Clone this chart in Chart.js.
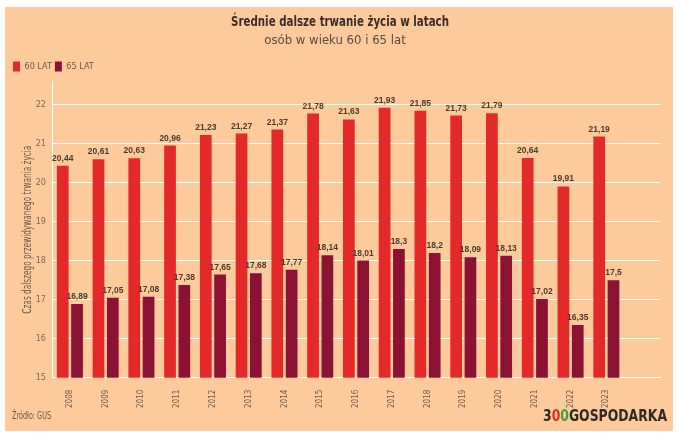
<!DOCTYPE html>
<html><head><meta charset="utf-8">
<script src="https://cdn.jsdelivr.net/npm/chart.js@4/dist/chart.umd.min.js"></script>
<style>html,body{margin:0;padding:0;background:#fff;}canvas{display:block;}</style>
</head><body>
<canvas id="c" width="680" height="438"></canvas>
<script>
const years = ['2008','2009','2010','2011','2012','2013','2014','2015','2016','2017','2018','2019','2020','2021','2022','2023',''];
const age60 = [20.44,20.61,20.63,20.96,21.23,21.27,21.37,21.78,21.63,21.93,21.85,21.73,21.79,20.64,19.91,21.19,null];
const age65 = [16.89,17.05,17.08,17.38,17.65,17.68,17.77,18.14,18.01,18.3,18.2,18.09,18.13,17.02,16.35,17.5,null];
const seriesNames = ['60 LAT','65 LAT'];
const titleText = 'Średnie dalsze trwanie życia w latach';
const subtitleText = 'osób w wieku 60 i 65 lat';
const yTitle = 'Czas dalszego przewidywanego trwania życia';
const sourceText = 'Źródło: GUS';

const FONT = '"DejaVu Sans Condensed", "Liberation Sans", sans-serif';
const BG = '#FDCB9B';

// draw text squeezed horizontally to a given width (condensed look)
function fitText(ctx, text, x, y, font, width, color, align) {
  ctx.save();
  ctx.font = font;
  ctx.fillStyle = color;
  ctx.textBaseline = 'middle';
  ctx.textAlign = 'left';
  const w = ctx.measureText(text).width;
  const s = width / w;
  let left = x;
  if (align === 'center') left = x - width / 2;
  else if (align === 'right') left = x - width;
  ctx.translate(left, y);
  ctx.scale(s, 1);
  ctx.fillText(text, 0, 0);
  ctx.restore();
}

const bgPlugin = {
  id: 'bg',
  beforeDraw(chart) {
    const ctx = chart.ctx;
    ctx.save();
    ctx.fillStyle = '#ffffff';
    ctx.fillRect(0, 0, chart.width, chart.height);
    ctx.fillStyle = BG;
    ctx.fillRect(5, 7, 668, 424);
    ctx.restore();
  }
};

const labelPlugin = {
  id: 'vals',
  afterDatasetsDraw(chart) {
    const ctx = chart.ctx;
    ctx.save();
    ctx.font = 'bold 8.5px "Liberation Sans", sans-serif';
    ctx.fillStyle = '#4e3a2c';
    ctx.textAlign = 'center';
    ctx.textBaseline = 'bottom';
    chart.data.datasets.forEach((ds, i) => {
      const meta = chart.getDatasetMeta(i);
      meta.data.forEach((el, j) => {
        const v = ds.data[j];
        if (v == null) return;
        ctx.fillText(String(v).replace('.', ','), el.x, el.y - 3);
      });
    });
    ctx.restore();
  }
};

const textPlugin = {
  id: 'texts',
  afterDraw(chart) {
    const ctx = chart.ctx;
    const ca = chart.chartArea;
    // main title
    fitText(ctx, titleText, 340, 22.5, 'bold 14px ' + FONT, 218, '#3a2e2a', 'center');
    // y axis title (rotated)
    ctx.save();
    ctx.translate(28, (ca.top + ca.bottom) / 2);
    ctx.rotate(-Math.PI / 2);
    fitText(ctx, yTitle, 0, 0, '12px ' + FONT, 168, '#6b5a50', 'center');
    ctx.restore();
    // source
    fitText(ctx, sourceText, 12, 416, '10px ' + FONT, 39, '#6b5a50', 'left');
    // logo
    const parts = [['3', '#2f2a28'], ['0', '#e52b2a'], ['0', '#3aa53a'], ['GOSPODARKA', '#2f2a28']];
    ctx.save();
    ctx.font = 'bold 15px "DejaVu Sans Condensed", "DejaVu Sans", sans-serif';
    ctx.textBaseline = 'middle';
    const total = parts.reduce((s, p) => s + ctx.measureText(p[0]).width, 0);
    const target = 124, right = 667;
    ctx.translate(right - target, 417);
    ctx.scale(target / total, 1);
    let x = 0;
    parts.forEach(p => { ctx.fillStyle = p[1]; ctx.fillText(p[0], x, 0); x += ctx.measureText(p[0]).width; });
    ctx.restore();
  }
};

new Chart(document.getElementById('c'), {
  type: 'bar',
  data: {
    labels: years,
    datasets: [
      { label: seriesNames[0], data: age60, backgroundColor: '#E3292A', categoryPercentage: 0.8, barPercentage: 0.82 },
      { label: seriesNames[1], data: age65, backgroundColor: '#8C1233', categoryPercentage: 0.8, barPercentage: 0.82 }
    ]
  },
  options: {
    responsive: false,
    animation: false,
    devicePixelRatio: 1,
    layout: { padding: { left: 10, right: 20, top: 9, bottom: 26 } },
    plugins: {
      title: { display: false },
      subtitle: { display: true, text: subtitleText, color: '#5a4a42', font: { family: FONT, size: 13 }, padding: { top: 24, bottom: 10 } },
      legend: {
        display: true, position: 'top', align: 'start',
        labels: { boxWidth: 7, boxHeight: 10, padding: 3, color: '#6b5a50', font: { family: FONT, size: 9 } }
      },
      tooltip: { enabled: false }
    },
    scales: {
      x: {
        grid: { display: false },
        border: { display: true, color: '#ffffff', width: 1 },
        ticks: { color: '#6b5a50', font: { family: FONT, size: 8 }, minRotation: 90, maxRotation: 90, padding: 4 }
      },
      y: {
        min: 15, max: 22.6,
        afterBuildTicks(scale) { scale.ticks = scale.ticks.filter(t => Number.isInteger(t.value)); },
        afterFit(scale) { scale.width = 42; },
        ticks: { stepSize: 1, color: '#7a6a60', font: { family: FONT, size: 9 }, padding: 6 },
        grid: { color: '#ffffff', lineWidth: 1, drawTicks: false },
        border: { display: true, color: '#ffffff', width: 1 },
        title: { display: false }
      }
    }
  },
  plugins: [bgPlugin, labelPlugin, textPlugin]
});
</script>
</body></html>
